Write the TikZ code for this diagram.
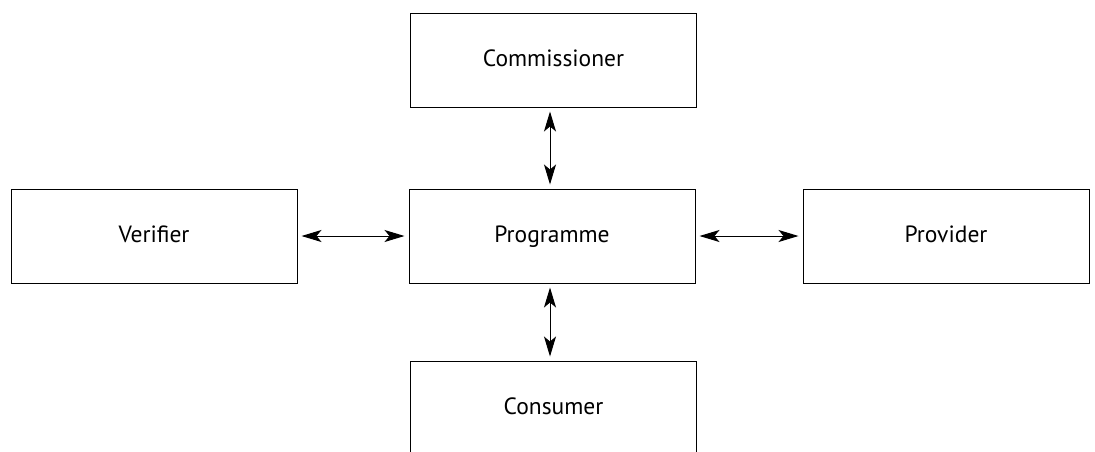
\documentclass[tikz,border=0pt]{standalone}
\usepackage{fontspec}
\setmainfont{PT Sans}
\usetikzlibrary{arrows.meta}
\begin{document}
\begin{tikzpicture}[x=1pt,y=-1pt,
  box/.style={draw,line width=1pt,minimum width=286pt,minimum height=94pt,inner sep=0pt,text height=16pt,text depth=4pt,font=\fontsize{23.5}{28}\selectfont},
  arr/.style={line width=1pt,arrows={Stealth[length=20pt,width=12pt,inset=5pt]-Stealth[length=20pt,width=12pt,inset=5pt]},shorten >=4pt,shorten <=4pt}]
\useasboundingbox (0,0) rectangle (1095,451);
\node[box] (comm) at (553.5,60) {Commissioner};
\node[box] (prog) at (552,236) {Programme};
\node[box] (ver) at (154,236) {Verifier};
\node[box] (prov) at (946,236) {Provider};
\node[box] (cons) at (553.5,408) {Consumer};
\draw[arr] (ver.east) -- (prog.west);
\draw[arr] (prog.east) -- (prov.west);
\draw[arr] ([xshift=-3.5pt]comm.south) -- ([xshift=-3.5pt]comm.south |- prog.north);
\draw[arr] ([xshift=-2pt]prog.south) -- ([xshift=-2pt]prog.south |- cons.north);
\end{tikzpicture}
\end{document}
